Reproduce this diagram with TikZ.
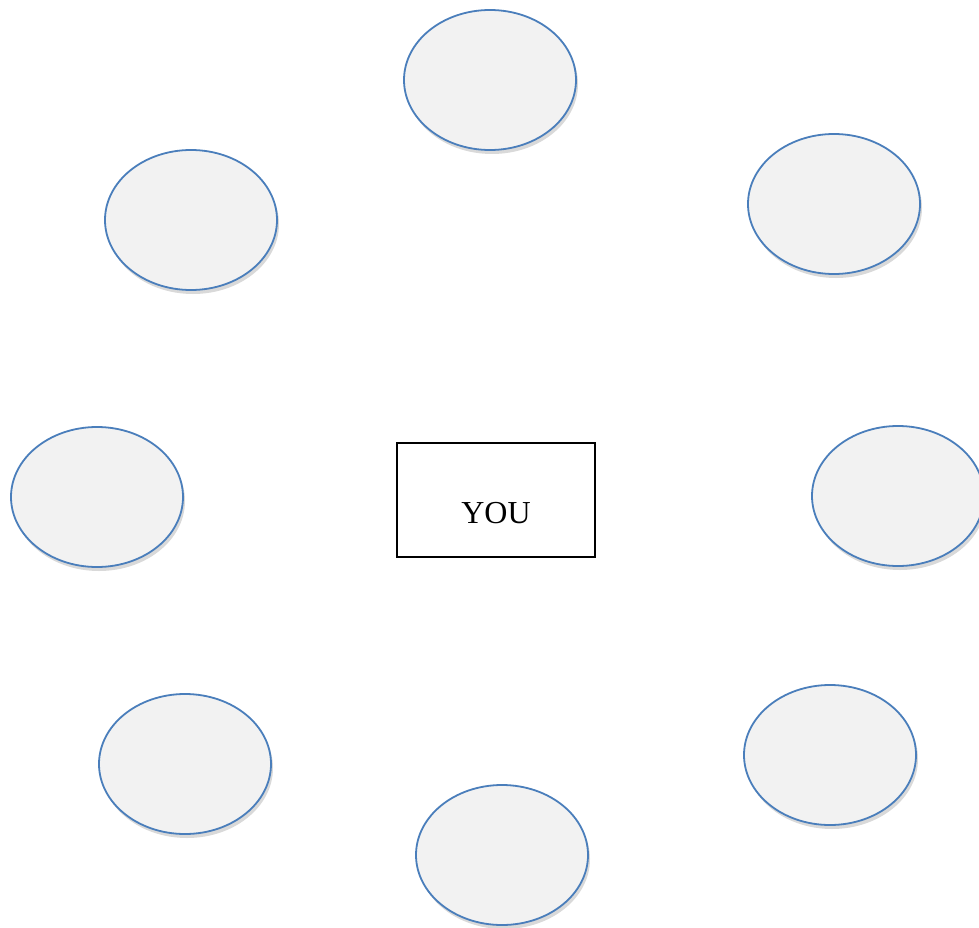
\documentclass[tikz,border=0pt]{standalone}
\usepackage{fontspec}
\setmainfont{Liberation Serif}
\usetikzlibrary{shapes.geometric,shadows}
\definecolor{edgeblue}{HTML}{4A7EBB}
\definecolor{cellfill}{HTML}{F2F2F2}
\tikzset{
  bubble/.style={ellipse, draw=edgeblue, line width=1.8pt, fill=cellfill,
    minimum width=172pt, minimum height=140pt, inner sep=0pt,
    drop shadow={shadow xshift=2pt, shadow yshift=-4pt, opacity=0.25, fill=black!60}},
  youbox/.style={rectangle, draw=black, line width=1.5pt, fill=white,
    minimum width=198pt, minimum height=114pt, inner sep=0pt}
}
\begin{document}
\begin{tikzpicture}[x=1pt,y=-1pt]
\useasboundingbox (0,0) rectangle (979,928);
\node[bubble] (n1) at (490,80) {};
\node[bubble] (n2) at (191,220) {};
\node[bubble] (n3) at (834,204) {};
\node[bubble] (n4) at (97,497) {};
\node[bubble] (n5) at (898,496) {};
\node[bubble] (n6) at (185,764) {};
\node[bubble] (n7) at (830,755) {};
\node[bubble] (n8) at (502,855) {};
\node[youbox] (you) at (496,500) {};
\node[font=\fontsize{32}{36}\selectfont, anchor=base] (youtxt) at (496,523) {YOU};
\end{tikzpicture}
\end{document}
